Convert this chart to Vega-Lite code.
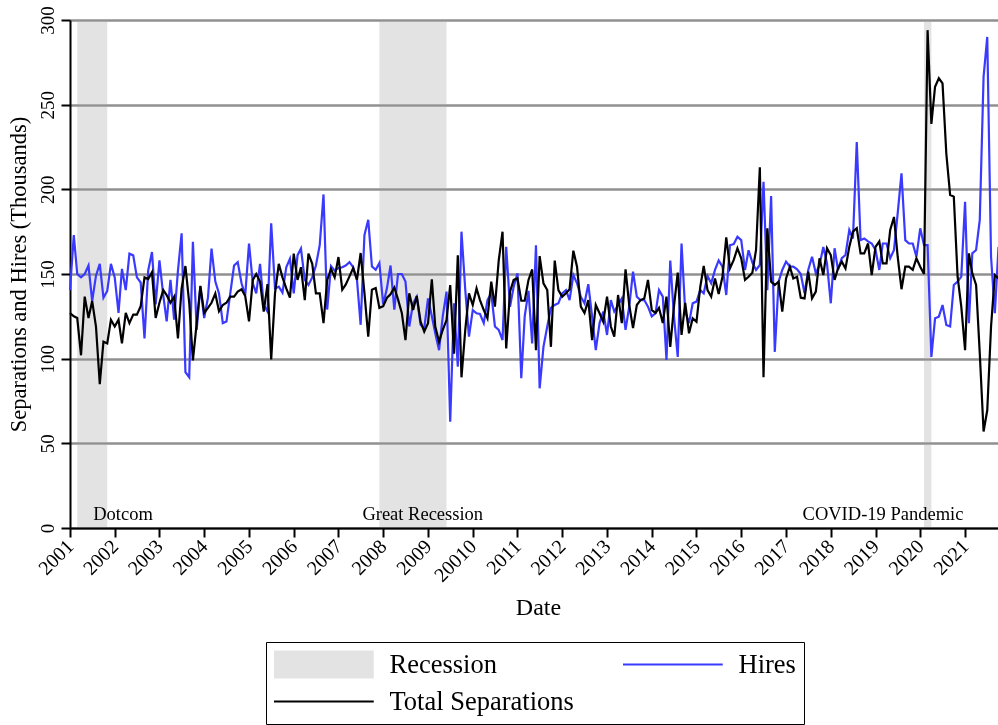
{
"$schema": "https://vega.github.io/schema/vega-lite/v6.json",
"width": 936, "height": 508,
"autosize": {"type": "none"},
"padding": {"left": 70, "top": 20, "right": 0, "bottom": 197},
"background": "white",
"config": {
  "font": "Liberation Serif",
  "view": {"stroke": null},
  "axis": {"labelFont": "Liberation Serif", "titleFont": "Liberation Serif", "labelColor": "black", "titleColor": "black", "titleFontWeight": "normal", "domainColor": "black", "tickColor": "black", "domainWidth": 2, "tickWidth": 2, "tickSize": 9},
  "axisX": {"labelFontSize": 20, "labelAngle": -45},
  "axisY": {"labelFontSize": 19, "labelAngle": -90},
  "legend": {"orient": "none", "legendX": 196, "legendY": 622, "title": null, "columns": 2,
       "labelFont": "Liberation Serif", "labelFontSize": 26.5, "labelColor": "black", "labelLimit": 400, "labelOffset": 52.5,
       "symbolType": "M-1,0H1", "symbolSize": 10000, "symbolStrokeWidth": 2, "symbolOffset": 36.5, "rowPadding": 8, "columnPadding": 49,
       "clipHeight": 29, "strokeColor": "black", "padding": 8}
},
"datasets": {
"rec": [
 {"start": "2001-03", "end": "2001-11", "label": "Dotcom", "series": "Recession"},
 {"start": "2007-12", "end": "2009-06", "label": "Great Recession", "series": "Recession"},
 {"start": "2020-02", "end": "2020-04", "label": "COVID-19 Pandemic", "series": "Recession"}
],
"jolts": [
{"d":"2001-01","Hires":140.5,"Total Separations":127},{"d":"2001-02","Hires":173,"Total Separations":125},{"d":"2001-03","Hires":150,"Total Separations":124},{"d":"2001-04","Hires":148,"Total Separations":102},{"d":"2001-05","Hires":150,"Total Separations":136.6},{"d":"2001-06","Hires":155,"Total Separations":124},{"d":"2001-07","Hires":134,"Total Separations":134},{"d":"2001-08","Hires":149,"Total Separations":119},{"d":"2001-09","Hires":156,"Total Separations":85},{"d":"2001-10","Hires":136,"Total Separations":110},{"d":"2001-11","Hires":140,"Total Separations":109},{"d":"2001-12","Hires":156,"Total Separations":123},
{"d":"2002-01","Hires":148,"Total Separations":119},{"d":"2002-02","Hires":127,"Total Separations":123},{"d":"2002-03","Hires":153,"Total Separations":109},{"d":"2002-04","Hires":140.5,"Total Separations":127},{"d":"2002-05","Hires":162,"Total Separations":121},{"d":"2002-06","Hires":161,"Total Separations":126},{"d":"2002-07","Hires":148,"Total Separations":126},{"d":"2002-08","Hires":145,"Total Separations":131},{"d":"2002-09","Hires":112,"Total Separations":148},{"d":"2002-10","Hires":152,"Total Separations":147},{"d":"2002-11","Hires":163,"Total Separations":151},{"d":"2002-12","Hires":132,"Total Separations":124},
{"d":"2003-01","Hires":158,"Total Separations":133},{"d":"2003-02","Hires":137.5,"Total Separations":140.5},{"d":"2003-03","Hires":122,"Total Separations":137.5},{"d":"2003-04","Hires":146.5,"Total Separations":133},{"d":"2003-05","Hires":123,"Total Separations":136.6},{"d":"2003-06","Hires":152,"Total Separations":112},{"d":"2003-07","Hires":174,"Total Separations":141.5},{"d":"2003-08","Hires":92,"Total Separations":154.7},{"d":"2003-09","Hires":89,"Total Separations":133},{"d":"2003-10","Hires":169,"Total Separations":99},{"d":"2003-11","Hires":117,"Total Separations":121},{"d":"2003-12","Hires":142.5,"Total Separations":143},
{"d":"2004-01","Hires":124,"Total Separations":127},{"d":"2004-02","Hires":136,"Total Separations":130},{"d":"2004-03","Hires":165,"Total Separations":133},{"d":"2004-04","Hires":145.5,"Total Separations":138.5},{"d":"2004-05","Hires":138.5,"Total Separations":128},{"d":"2004-06","Hires":121,"Total Separations":131.7},{"d":"2004-07","Hires":122,"Total Separations":133},{"d":"2004-08","Hires":138.5,"Total Separations":136.6},{"d":"2004-09","Hires":155,"Total Separations":136.6},{"d":"2004-10","Hires":157,"Total Separations":139.6},{"d":"2004-11","Hires":144.5,"Total Separations":141},{"d":"2004-12","Hires":137.5,"Total Separations":137},
{"d":"2005-01","Hires":168,"Total Separations":122},{"d":"2005-02","Hires":144.5,"Total Separations":146.5},{"d":"2005-03","Hires":138.5,"Total Separations":150},{"d":"2005-04","Hires":156,"Total Separations":145.5},{"d":"2005-05","Hires":131.7,"Total Separations":127.8},{"d":"2005-06","Hires":127.8,"Total Separations":144},{"d":"2005-07","Hires":180,"Total Separations":99.6},{"d":"2005-08","Hires":141.5,"Total Separations":138.5},{"d":"2005-09","Hires":142.5,"Total Separations":156},{"d":"2005-10","Hires":139,"Total Separations":148},{"d":"2005-11","Hires":154,"Total Separations":141.5},{"d":"2005-12","Hires":159,"Total Separations":136},
{"d":"2006-01","Hires":138.5,"Total Separations":162},{"d":"2006-02","Hires":161,"Total Separations":146.5},{"d":"2006-03","Hires":165,"Total Separations":154},{"d":"2006-04","Hires":146.5,"Total Separations":134.6},{"d":"2006-05","Hires":143.5,"Total Separations":162},{"d":"2006-06","Hires":148,"Total Separations":156},{"d":"2006-07","Hires":155,"Total Separations":138.5},{"d":"2006-08","Hires":167,"Total Separations":138.5},{"d":"2006-09","Hires":197,"Total Separations":121},{"d":"2006-10","Hires":129,"Total Separations":146.5},{"d":"2006-11","Hires":154.7,"Total Separations":153},{"d":"2006-12","Hires":152,"Total Separations":148},
{"d":"2007-01","Hires":153.5,"Total Separations":160},{"d":"2007-02","Hires":154,"Total Separations":140.7},{"d":"2007-03","Hires":155,"Total Separations":143.7},{"d":"2007-04","Hires":157,"Total Separations":148.6},{"d":"2007-05","Hires":154,"Total Separations":153.5},{"d":"2007-06","Hires":146.6,"Total Separations":146.6},{"d":"2007-07","Hires":120,"Total Separations":162.4},{"d":"2007-08","Hires":173,"Total Separations":138.8},{"d":"2007-09","Hires":182,"Total Separations":113},{"d":"2007-10","Hires":154.5,"Total Separations":140.7},{"d":"2007-11","Hires":152.5,"Total Separations":141.7},{"d":"2007-12","Hires":156.5,"Total Separations":130},
{"d":"2008-01","Hires":132,"Total Separations":131},{"d":"2008-02","Hires":141.7,"Total Separations":136},{"d":"2008-03","Hires":155,"Total Separations":138},{"d":"2008-04","Hires":129,"Total Separations":142},{"d":"2008-05","Hires":150,"Total Separations":135},{"d":"2008-06","Hires":150,"Total Separations":127},{"d":"2008-07","Hires":145.5,"Total Separations":111},{"d":"2008-08","Hires":119,"Total Separations":138.6},{"d":"2008-09","Hires":132.7,"Total Separations":128.7},{"d":"2008-10","Hires":136.6,"Total Separations":137},{"d":"2008-11","Hires":120,"Total Separations":121.8},{"d":"2008-12","Hires":118,"Total Separations":116},
{"d":"2009-01","Hires":135.6,"Total Separations":121},{"d":"2009-02","Hires":125,"Total Separations":146.9},{"d":"2009-03","Hires":115,"Total Separations":119},{"d":"2009-04","Hires":105,"Total Separations":110},{"d":"2009-05","Hires":125,"Total Separations":117},{"d":"2009-06","Hires":139.6,"Total Separations":122.8},{"d":"2009-07","Hires":62.8,"Total Separations":143.5},{"d":"2009-08","Hires":132.7,"Total Separations":103},{"d":"2009-09","Hires":95.3,"Total Separations":161},{"d":"2009-10","Hires":175,"Total Separations":89},{"d":"2009-11","Hires":140.5,"Total Separations":117},{"d":"2009-12","Hires":113,"Total Separations":138.6},
{"d":"2010-01","Hires":128.7,"Total Separations":131.7},{"d":"2010-02","Hires":126.8,"Total Separations":141.5},{"d":"2010-03","Hires":126.4,"Total Separations":134.6},{"d":"2010-04","Hires":121,"Total Separations":128.7},{"d":"2010-05","Hires":134.6,"Total Separations":123.8},{"d":"2010-06","Hires":138.6,"Total Separations":145.5},{"d":"2010-07","Hires":119,"Total Separations":130.7},{"d":"2010-08","Hires":117,"Total Separations":158},{"d":"2010-09","Hires":111,"Total Separations":175},{"d":"2010-10","Hires":166,"Total Separations":106},{"d":"2010-11","Hires":130.7,"Total Separations":139.6},{"d":"2010-12","Hires":142.5,"Total Separations":146.5},
{"d":"2011-01","Hires":150.4,"Total Separations":147.4},{"d":"2011-02","Hires":88.4,"Total Separations":134.2},{"d":"2011-03","Hires":125,"Total Separations":134.2},{"d":"2011-04","Hires":140,"Total Separations":146.5},{"d":"2011-05","Hires":109,"Total Separations":152.7},{"d":"2011-06","Hires":167,"Total Separations":105},{"d":"2011-07","Hires":82.5,"Total Separations":160.6},{"d":"2011-08","Hires":107,"Total Separations":144.5},{"d":"2011-09","Hires":119,"Total Separations":140.5},{"d":"2011-10","Hires":130,"Total Separations":107},{"d":"2011-11","Hires":131.7,"Total Separations":157.9},{"d":"2011-12","Hires":132.7,"Total Separations":140.5},
{"d":"2012-01","Hires":138.6,"Total Separations":136.6},{"d":"2012-02","Hires":140.5,"Total Separations":138.6},{"d":"2012-03","Hires":134.6,"Total Separations":141},{"d":"2012-04","Hires":149.4,"Total Separations":163.8},{"d":"2012-05","Hires":144.5,"Total Separations":154.3},{"d":"2012-06","Hires":136.6,"Total Separations":130.7},{"d":"2012-07","Hires":132.7,"Total Separations":127},{"d":"2012-08","Hires":144,"Total Separations":134.6},{"d":"2012-09","Hires":125,"Total Separations":111},{"d":"2012-10","Hires":105,"Total Separations":131.7},{"d":"2012-11","Hires":121,"Total Separations":126.8},{"d":"2012-12","Hires":127.8,"Total Separations":121.8},
{"d":"2013-01","Hires":114,"Total Separations":136.6},{"d":"2013-02","Hires":134.6,"Total Separations":119},{"d":"2013-03","Hires":127.8,"Total Separations":113},{"d":"2013-04","Hires":131.7,"Total Separations":137.6},{"d":"2013-05","Hires":135.6,"Total Separations":121},{"d":"2013-06","Hires":117,"Total Separations":152.7},{"d":"2013-07","Hires":130.7,"Total Separations":131.7},{"d":"2013-08","Hires":151.4,"Total Separations":118},{"d":"2013-09","Hires":136.6,"Total Separations":131.7},{"d":"2013-10","Hires":134.6,"Total Separations":134.6},{"d":"2013-11","Hires":134.6,"Total Separations":135.6},{"d":"2013-12","Hires":130.7,"Total Separations":146.5},
{"d":"2014-01","Hires":125,"Total Separations":128.7},{"d":"2014-02","Hires":126.8,"Total Separations":127},{"d":"2014-03","Hires":140.5,"Total Separations":130},{"d":"2014-04","Hires":136.6,"Total Separations":121},{"d":"2014-05","Hires":99.2,"Total Separations":136.6},{"d":"2014-06","Hires":158,"Total Separations":107},{"d":"2014-07","Hires":125,"Total Separations":130.7},{"d":"2014-08","Hires":101,"Total Separations":150.8},{"d":"2014-09","Hires":168,"Total Separations":114},{"d":"2014-10","Hires":127.8,"Total Separations":133},{"d":"2014-11","Hires":121,"Total Separations":115},{"d":"2014-12","Hires":132.7,"Total Separations":123.8},
{"d":"2015-01","Hires":133.7,"Total Separations":121.8},{"d":"2015-02","Hires":140.5,"Total Separations":142.5},{"d":"2015-03","Hires":138.6,"Total Separations":154.7},{"d":"2015-04","Hires":148.8,"Total Separations":140.5},{"d":"2015-05","Hires":144.5,"Total Separations":136.6},{"d":"2015-06","Hires":152.4,"Total Separations":147.4},{"d":"2015-07","Hires":158,"Total Separations":138.2},{"d":"2015-08","Hires":154.3,"Total Separations":148.4},{"d":"2015-09","Hires":137.6,"Total Separations":171.7},{"d":"2015-10","Hires":167,"Total Separations":153.3},{"d":"2015-11","Hires":167.7,"Total Separations":158.3},{"d":"2015-12","Hires":172,"Total Separations":165.2},
{"d":"2016-01","Hires":170,"Total Separations":159.3},{"d":"2016-02","Hires":152.4,"Total Separations":146.5},{"d":"2016-03","Hires":164,"Total Separations":148.4},{"d":"2016-04","Hires":156.7,"Total Separations":150.8},{"d":"2016-05","Hires":152.4,"Total Separations":164.2},{"d":"2016-06","Hires":155.3,"Total Separations":213},{"d":"2016-07","Hires":204.5,"Total Separations":89},{"d":"2016-08","Hires":140.5,"Total Separations":177},{"d":"2016-09","Hires":196,"Total Separations":145.5},{"d":"2016-10","Hires":104,"Total Separations":143.5},{"d":"2016-11","Hires":145.5,"Total Separations":145.5},{"d":"2016-12","Hires":152.4,"Total Separations":127.8},
{"d":"2017-01","Hires":157.3,"Total Separations":147.4},{"d":"2017-02","Hires":154.3,"Total Separations":154.3},{"d":"2017-03","Hires":154.3,"Total Separations":147.4},{"d":"2017-04","Hires":152.7,"Total Separations":148.4},{"d":"2017-05","Hires":150,"Total Separations":136},{"d":"2017-06","Hires":138.6,"Total Separations":135.6},{"d":"2017-07","Hires":152.4,"Total Separations":151.4},{"d":"2017-08","Hires":160.2,"Total Separations":135.6},{"d":"2017-09","Hires":150.4,"Total Separations":139.6},{"d":"2017-10","Hires":155.3,"Total Separations":159.3},{"d":"2017-11","Hires":166,"Total Separations":149.4},{"d":"2017-12","Hires":156.3,"Total Separations":165.2},
{"d":"2018-01","Hires":132.7,"Total Separations":161.2},{"d":"2018-02","Hires":165.2,"Total Separations":146.5},{"d":"2018-03","Hires":152.4,"Total Separations":153.3},{"d":"2018-04","Hires":159.3,"Total Separations":157.3},{"d":"2018-05","Hires":161.2,"Total Separations":153.3},{"d":"2018-06","Hires":176,"Total Separations":166},{"d":"2018-07","Hires":171,"Total Separations":175},{"d":"2018-08","Hires":228,"Total Separations":177},{"d":"2018-09","Hires":170,"Total Separations":162.2},{"d":"2018-10","Hires":171,"Total Separations":162.2},{"d":"2018-11","Hires":169.3,"Total Separations":168},{"d":"2018-12","Hires":168,"Total Separations":149.4},
{"d":"2019-01","Hires":164.2,"Total Separations":166},{"d":"2019-02","Hires":152.4,"Total Separations":169.3},{"d":"2019-03","Hires":168,"Total Separations":156.3},{"d":"2019-04","Hires":168,"Total Separations":156.3},{"d":"2019-05","Hires":159.3,"Total Separations":176},{"d":"2019-06","Hires":164.2,"Total Separations":183.7},{"d":"2019-07","Hires":185.8,"Total Separations":160.2},{"d":"2019-08","Hires":209.4,"Total Separations":141},{"d":"2019-09","Hires":170,"Total Separations":154.3},{"d":"2019-10","Hires":168,"Total Separations":154.3},{"d":"2019-11","Hires":168,"Total Separations":152.4},{"d":"2019-12","Hires":160.2,"Total Separations":159.3},
{"d":"2020-01","Hires":177,"Total Separations":154.3},{"d":"2020-02","Hires":167,"Total Separations":150},{"d":"2020-03","Hires":167,"Total Separations":294},{"d":"2020-04","Hires":101,"Total Separations":238.6},{"d":"2020-05","Hires":123.8,"Total Separations":260.6},{"d":"2020-06","Hires":124.8,"Total Separations":265.6},{"d":"2020-07","Hires":131.7,"Total Separations":262.6},{"d":"2020-08","Hires":119.9,"Total Separations":221},{"d":"2020-09","Hires":119,"Total Separations":196.7},{"d":"2020-10","Hires":143.5,"Total Separations":195.7},{"d":"2020-11","Hires":145.5,"Total Separations":148.4},{"d":"2020-12","Hires":148.4,"Total Separations":130.7},
{"d":"2021-01","Hires":192.7,"Total Separations":105},{"d":"2021-02","Hires":120.9,"Total Separations":162.2},{"d":"2021-03","Hires":162.2,"Total Separations":150.4},{"d":"2021-04","Hires":164.2,"Total Separations":143.5},{"d":"2021-05","Hires":181.9,"Total Separations":103},{"d":"2021-06","Hires":266.5,"Total Separations":57},{"d":"2021-07","Hires":290,"Total Separations":69.5},{"d":"2021-08","Hires":160,"Total Separations":119},{"d":"2021-09","Hires":126.8,"Total Separations":149.4},{"d":"2021-10","Hires":166,"Total Separations":147.4}
]
},
"layer": [
 {
  "data": {"name": "rec"},
  "mark": {"type": "rect", "blend": "darken"},
  "encoding": {
   "x": {"field": "start", "type": "temporal",
     "scale": {"type": "utc", "domain": [{"year": 2001, "month": 1, "date": 1, "utc": true}, {"year": 2021, "month": 12, "date": 1, "utc": true}]},
     "axis": {"title": "Date", "titleFontSize": 24, "titlePadding": 10, "labelFontSize": 20, "labelAngle": -45, "labelAlign": "right", "labelBaseline": "middle", "tickCount": {"interval": "year", "step": 1}, "labelExpr": "utcFormat(datum.value, '%Y') == '2010' ? '20010' : utcFormat(datum.value, '%Y')", "grid": false, "labelPadding": 6, "labelOverlap": false, "labelFlush": false}},
   "x2": {"field": "end"},
   "y": {"datum": 0, "type": "quantitative", "scale": {"domain": [0, 300], "nice": false},
     "axis": {"title": "Separations and Hires (Thousands)", "titleFontSize": 22.5, "titlePadding": 8, "labelFontSize": 19, "labelAngle": -90, "values": [0, 50, 100, 150, 200, 250, 300], "grid": true, "gridColor": "#909090", "gridWidth": 2.5, "labelPadding": 4}},
   "y2": {"datum": 300},
   "color": {"field": "series", "type": "nominal",
     "scale": {"domain": ["Recession", "Hires", "Total Separations"], "range": ["#e3e3e3", "#3a3aff", "#000000"]},
     "legend": {"values": ["Recession", "Total Separations", "Hires"],
       "encoding": {"symbols": {
         "strokeWidth": {"value": {"expr": "datum.value === 'Recession' ? 28 : 2"}},
         "fill": {"value": "transparent"},
         "opacity": {"value": 1}, "strokeOpacity": {"value": 1}
       }}}}
  }
 },
 {
  "data": {"name": "jolts"},
  "transform": [{"fold": ["Hires", "Total Separations"], "as": ["series", "value"]}],
  "mark": {"type": "line", "strokeWidth": 2.2},
  "encoding": {
   "x": {"field": "d", "type": "temporal"},
   "y": {"field": "value", "type": "quantitative"},
   "color": {"field": "series", "type": "nominal",
     "scale": {"domain": ["Recession", "Hires", "Total Separations"], "range": ["#e3e3e3", "#3a3aff", "#000000"]},
     "legend": {"values": ["Recession", "Total Separations", "Hires"],
       "encoding": {"symbols": {
         "strokeWidth": {"value": {"expr": "datum.value === 'Recession' ? 28 : 2"}},
         "fill": {"value": "transparent"},
         "opacity": {"value": 1}, "strokeOpacity": {"value": 1}
       }}}}
  }
 },
 {
  "data": {"name": "rec"},
  "transform": [{"filter": "datum.label == 'Dotcom'"}],
  "mark": {"type": "text", "align": "left", "baseline": "alphabetic", "dx": 16, "dy": -8, "fontSize": 18.5, "font": "Liberation Serif", "color": "black"},
  "encoding": {"x": {"field": "start", "type": "temporal"}, "y": {"datum": 0, "type": "quantitative"}, "text": {"field": "label"}}
 },
 {
  "data": {"name": "rec"},
  "transform": [{"filter": "datum.label == 'Great Recession'"}],
  "mark": {"type": "text", "align": "left", "baseline": "alphabetic", "dx": -17, "dy": -8, "fontSize": 18.5, "font": "Liberation Serif", "color": "black"},
  "encoding": {"x": {"field": "start", "type": "temporal"}, "y": {"datum": 0, "type": "quantitative"}, "text": {"field": "label"}}
 },
 {
  "data": {"name": "rec"},
  "transform": [{"filter": "datum.label == 'COVID-19 Pandemic'"}],
  "mark": {"type": "text", "align": "right", "baseline": "alphabetic", "dx": 32, "dy": -8, "fontSize": 18.5, "font": "Liberation Serif", "color": "black"},
  "encoding": {"x": {"field": "end", "type": "temporal"}, "y": {"datum": 0, "type": "quantitative"}, "text": {"field": "label"}}
 }
]
}
